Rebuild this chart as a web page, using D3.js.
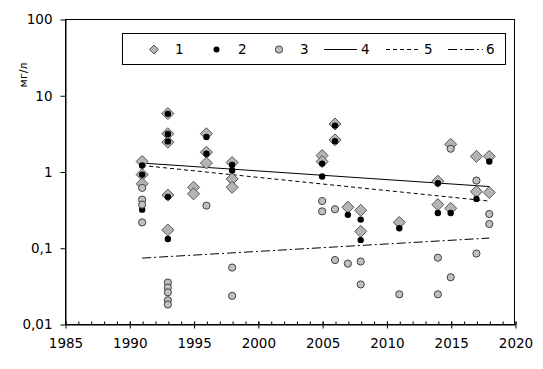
<!DOCTYPE html>
<html><head><meta charset="utf-8">
<script src="https://cdn.jsdelivr.net/npm/d3@7"></script>
<style>
html,body{margin:0;padding:0;background:#fff;}
svg text{font-family:"DejaVu Sans",Verdana,sans-serif;fill:#000;}
</style></head>
<body>
<svg id="c" width="543" height="369"></svg>
<script>
// ---- data ----
const xTicks = [1985,1990,1995,2000,2005,2010,2015,2020];
const yTicks = [0.01,0.1,1,10,100];
const yTickLabels = ["0,01","0,1","1","10","100"];
const yLabel = "мг/л";
const legendLabels = ["1","2","3","4","5","6"];

// series 1: diamonds [year, value]
const series1 = [
  [1991,1.35],[1991,0.91],[1991,0.69],
  [1993,5.75],[1993,3.13],[1993,2.42],[1993,0.49],[1993,0.171],
  [1995,0.62],[1995,0.51],
  [1996,3.13],[1996,1.79],[1996,1.29],
  [1998,1.31],[1998,0.80],[1998,0.62],
  [2005,1.62],[2005,1.35],
  [2006,4.2],[2006,2.6],
  [2007,0.34],
  [2008,0.31],[2008,0.164],
  [2011,0.215],
  [2014,0.745],[2014,0.368],
  [2015,2.27],[2015,0.329],
  [2017,1.58],[2017,0.545],
  [2018,1.58],[2018,0.53]
];
// series 2: black dots
const series2 = [
  [1991,1.2],[1991,0.91],[1991,0.316],
  [1993,5.7],[1993,3.1],[1993,2.48],[1993,0.465],[1993,0.13],
  [1996,2.83],[1996,1.71],
  [1998,1.22],[1998,1.03],
  [2005,1.27],[2005,0.86],
  [2006,4.0],[2006,2.5],
  [2007,0.27],
  [2008,0.234],[2008,0.126],
  [2011,0.18],
  [2014,0.70],[2014,0.286],
  [2015,0.286],
  [2017,0.437],
  [2018,1.35]
];
// series 3: grey circles
const series3 = [
  [1991,0.61],[1991,0.428],[1991,0.368],[1991,0.215],
  [1993,0.035],[1993,0.030],[1993,0.026],[1993,0.0205],[1993,0.018],
  [1996,0.357],
  [1998,0.055],[1998,0.0234],
  [2005,0.41],[2005,0.30],
  [2006,0.32],[2006,0.069],
  [2007,0.062],
  [2008,0.066],[2008,0.033],
  [2011,0.0245],
  [2014,0.074],[2014,0.0245],
  [2015,1.99],[2015,0.041],
  [2017,0.76],[2017,0.084],
  [2018,0.277],[2018,0.205]
];
// trend lines (endpoints)
const trend4 = [[1991,1.29],[2018,0.635]];
const trend5 = [[1991,1.2],[2018,0.409]];
const trend6 = [[1991,0.0732],[2018,0.134]];

// ---- chart ----
const svg = d3.select("#c");
const L=65, R=515, T=19, B=324;
const x = d3.scaleLinear().domain([1985,2020]).range([L,R]);
const y = d3.scaleLog().domain([0.01,100]).range([B,T]);
const FS = "13.5px";

// frame
svg.append("rect").attr("x",L+0.5).attr("y",T+0.5).attr("width",R-L-1).attr("height",B-T)
  .attr("fill","none").attr("stroke","#000").attr("stroke-width",1);

// minor x ticks (inside)
const minorYears = d3.range(1985,2021);
svg.append("g").attr("transform",`translate(0.5,${B+0.5})`)
  .call(d3.axisBottom(x).tickValues(minorYears).tickSize(-3).tickFormat("").tickSizeOuter(0))
  .call(g=>g.select(".domain").remove());
// major x ticks
const gx = svg.append("g").attr("transform",`translate(0.5,${B+0.5})`)
  .call(d3.axisBottom(x).tickValues(xTicks).tickFormat(d3.format("d")).tickSize(4).tickPadding(10).tickSizeOuter(0));
gx.selectAll(".tick line").attr("y1",-3);
gx.selectAll("text").style("font-size",FS);
// y axis
const gy = svg.append("g").attr("transform",`translate(${L+0.5},0.5)`)
  .call(d3.axisLeft(y).tickValues(yTicks).tickFormat((d,i)=>yTickLabels[i]).tickSize(5).tickPadding(8).tickSizeOuter(0));
gy.selectAll("text").style("font-size",FS);
svg.selectAll(".domain").attr("stroke","#000");
svg.selectAll(".tick line").attr("stroke","#000");

// y label
svg.append("text").attr("transform","translate(27,75) rotate(-90)")
  .attr("text-anchor","middle").style("font-size","11px").text(yLabel);

// trend lines
const line = d3.line().x(d=>x(d[0])).y(d=>y(d[1]));
svg.append("path").datum(trend4).attr("d",line).attr("fill","none").attr("stroke","#000").attr("stroke-width",1);
svg.append("path").datum(trend5).attr("d",line).attr("fill","none").attr("stroke","#000").attr("stroke-width",1).attr("stroke-dasharray","4,3");
svg.append("path").datum(trend6).attr("d",line).attr("fill","none").attr("stroke","#000").attr("stroke-width",1).attr("stroke-dasharray","9,3,2,3");

// markers
const dia = r => `M0,${-r}L${r},0L0,${r}L${-r},0Z`;
svg.append("g").selectAll("path").data(series1).join("path")
  .attr("transform",d=>`translate(${x(d[0])},${y(d[1])})`)
  .attr("d",dia(6)).attr("fill","#b4b4b4").attr("stroke","#555").attr("stroke-width",1);
svg.append("g").selectAll("circle").data(series2).join("circle")
  .attr("cx",d=>x(d[0])).attr("cy",d=>y(d[1])).attr("r",3.2).attr("fill","#000");
svg.append("g").selectAll("circle").data(series3).join("circle")
  .attr("cx",d=>x(d[0])).attr("cy",d=>y(d[1])).attr("r",3.6).attr("fill","#c0c0c0").attr("stroke","#404040").attr("stroke-width",1);

// legend
const lg = svg.append("g");
lg.append("rect").attr("x",122.5).attr("y",33.5).attr("width",383).attr("height",31)
  .attr("fill","#fff").attr("stroke","#000").attr("stroke-width",1);
const ly = 49.5;
lg.append("path").attr("transform",`translate(154,${ly})`).attr("d",dia(4.5)).attr("fill","#b4b4b4").attr("stroke","#555");
lg.append("circle").attr("cx",216.5).attr("cy",ly).attr("r",3).attr("fill","#000");
lg.append("circle").attr("cx",279).attr("cy",ly).attr("r",3.6).attr("fill","#c0c0c0").attr("stroke","#404040");
lg.append("line").attr("x1",324).attr("x2",357).attr("y1",ly).attr("y2",ly).attr("stroke","#000");
lg.append("line").attr("x1",386).attr("x2",420).attr("y1",ly).attr("y2",ly).attr("stroke","#000").attr("stroke-dasharray","4,3");
lg.append("line").attr("x1",448).attr("x2",483).attr("y1",ly).attr("y2",ly).attr("stroke","#000").attr("stroke-dasharray","9,3,2,3");
const lx = [175,238,300,361,424,486];
lg.selectAll("text.l").data(legendLabels).join("text").attr("class","l")
  .attr("x",(d,i)=>lx[i]).attr("y",ly).attr("dy","0.36em").style("font-size",FS).text(d=>d);
</script>
</body></html>
